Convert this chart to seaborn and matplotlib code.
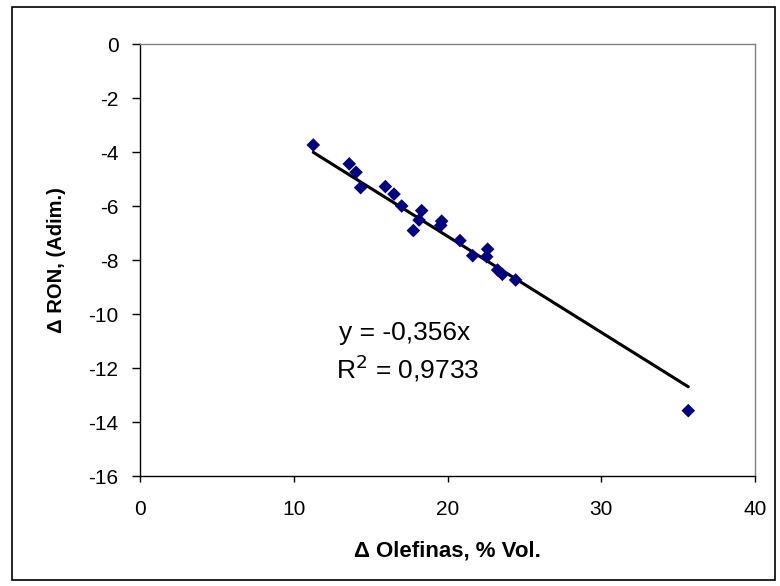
import matplotlib
matplotlib.use("Agg")
import matplotlib.pyplot as plt
import seaborn as sns
import numpy as np
import pandas as pd
from matplotlib.patches import Rectangle

# Data
olefinas = [11.27, 13.61, 14.05, 14.35, 15.96, 16.52, 17.02, 18.32, 18.15, 17.78,
            19.62, 19.56, 20.81, 21.64, 22.61, 22.55, 23.26, 23.57, 24.43, 35.66]
delta_ron = [-3.74, -4.44, -4.75, -5.32, -5.28, -5.56, -6.00, -6.17, -6.52, -6.91,
             -6.56, -6.72, -7.28, -7.84, -7.60, -7.88, -8.37, -8.53, -8.74, -13.58]
slope = -0.356
r2_text = "0,9733"
x_ticks = [0, 10, 20, 30, 40]
y_ticks = [0, -2, -4, -6, -8, -10, -12, -14, -16]

sns.set_theme(style="white")
plt.rcParams['font.family'] = ['Liberation Sans', 'DejaVu Sans']
plt.rcParams.update({"text.color": "black", "axes.labelcolor": "black",
                     "xtick.color": "black", "ytick.color": "black"})

df = pd.DataFrame({"x": olefinas, "y": delta_ron})
xmin, xmax = min(olefinas), max(olefinas)
line_df = pd.DataFrame({"x": [xmin, xmax], "y": [slope * xmin, slope * xmax]})

fig = plt.figure(figsize=(7.8, 5.86), dpi=100)
ax = fig.add_axes([140/780, 1-476/586, (755-140)/780, (476-44)/586])

sns.lineplot(data=line_df, x="x", y="y", ax=ax, color="black", linewidth=2.2)
sns.scatterplot(data=df, x="x", y="y", ax=ax, marker="D", s=48, color="#000080",
                edgecolor="none", linewidth=0, zorder=3)

ax.set_xlim(0, 40)
ax.set_ylim(-16, 0)
ax.set_xticks(x_ticks)
ax.set_yticks(y_ticks)
ax.set_xticklabels([str(t) for t in x_ticks], fontsize=15, color="black")
ax.set_yticklabels([str(t) for t in y_ticks], fontsize=15, color="black")
ax.tick_params(axis="x", direction="out", length=4.5, width=1, color="black",
               bottom=True, pad=13)
ax.tick_params(axis="y", direction="out", length=6, width=1, color="black",
               left=True, pad=9.5)

for s in ["left", "bottom"]:
    ax.spines[s].set_color("black")
    ax.spines[s].set_linewidth(1)
for s in ["top", "right"]:
    ax.spines[s].set_color("#808080")
    ax.spines[s].set_linewidth(1)

ax.set_xlabel("Δ Olefinas, % Vol.", fontsize=16, fontweight="bold", labelpad=15,
              color="black")
ax.set_ylabel("Δ RON, (Adim.)", fontsize=14.5, fontweight="bold", labelpad=16,
              color="black")

ax.text(405/780, 1-333/586, "y = -0,356x", transform=fig.transFigure,
        ha="center", va="center", fontsize=19, color="black")
ax.text(408/780, 1-368/586, "R$^{2}$ = " + r2_text, transform=fig.transFigure,
        ha="center", va="center", fontsize=19, color="black")

fig.patches.append(Rectangle((12/780, 6/586), (775-12)/780, (579-6)/586,
                             transform=fig.transFigure, fill=False,
                             edgecolor="black", linewidth=1.2))

fig.savefig("out.png", dpi=100)
